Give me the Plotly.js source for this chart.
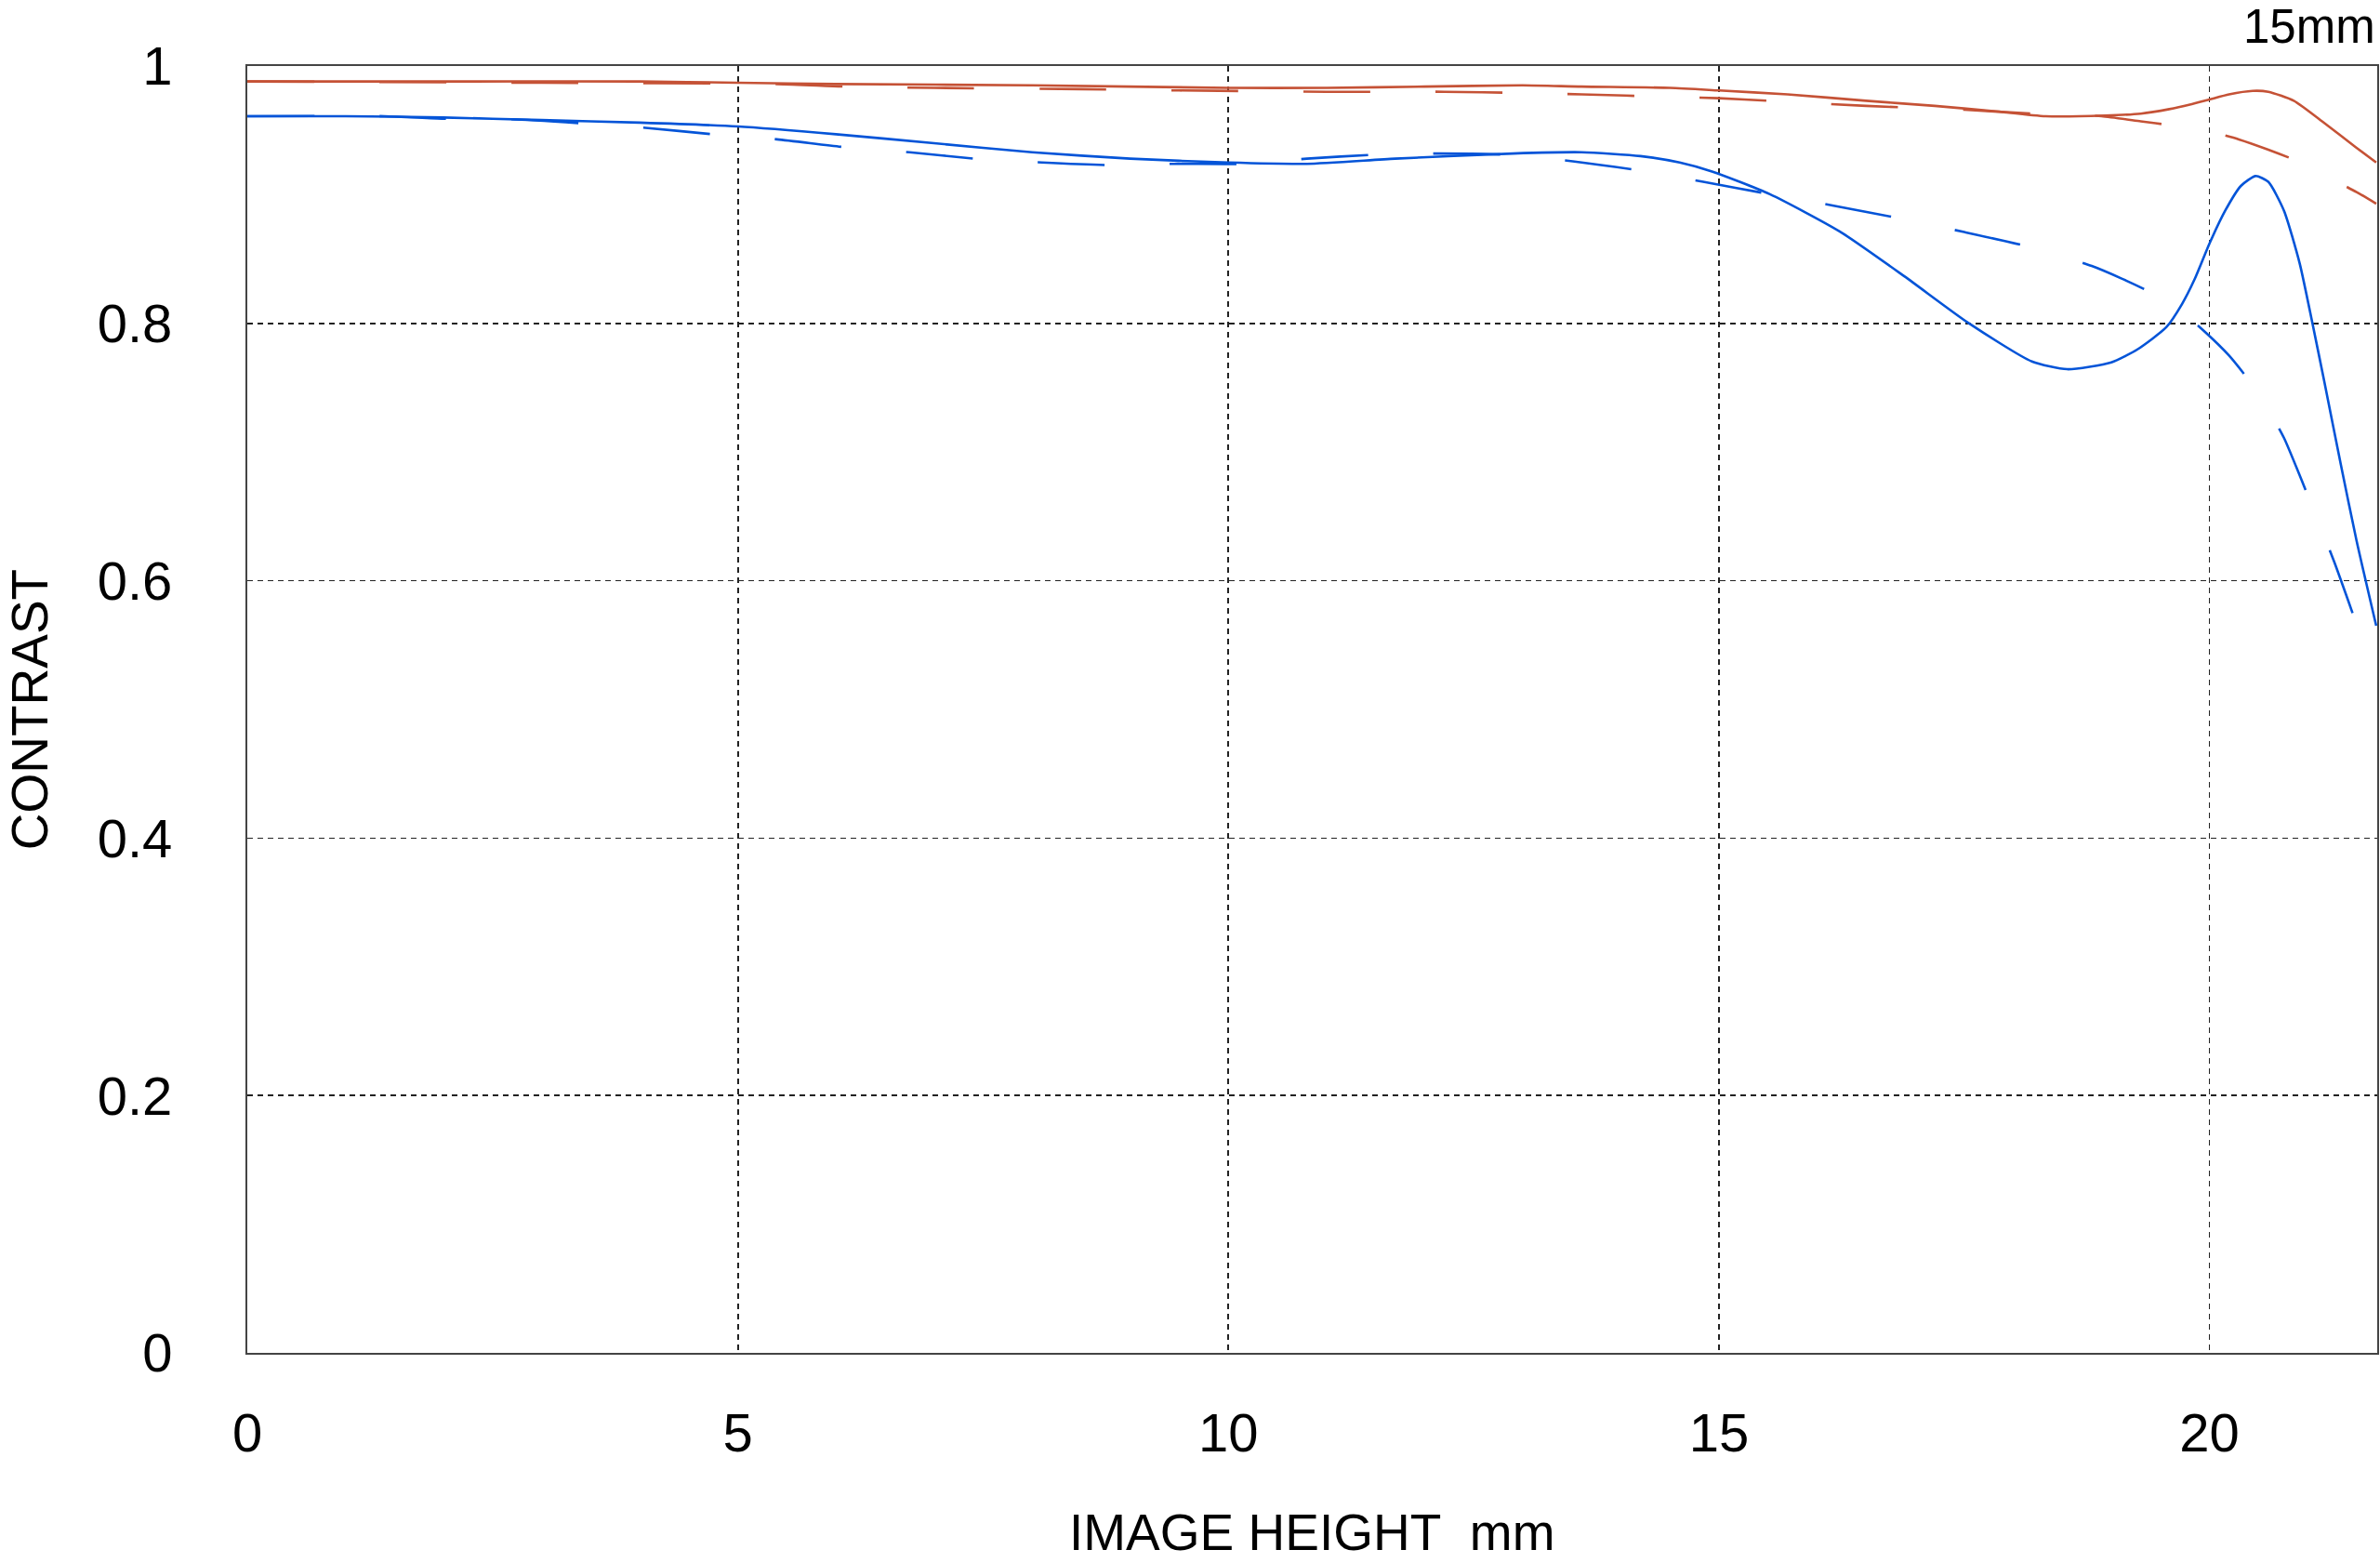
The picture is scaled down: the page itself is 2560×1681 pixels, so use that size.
<!DOCTYPE html>
<html>
<head>
<meta charset="utf-8">
<script src="https://cdn.plot.ly/plotly-3.0.1.min.js"></script>
<style>
  html, body { margin: 0; padding: 0; background: #ffffff; }
  #chart { width: 2560px; height: 1681px; }
</style>
</head>
<body>
<div id="chart"></div>
<script>
// ---- Data (15mm) ----
const xTickVals = [0, 5, 10, 15, 20];
const xTickText = ["0", "5", "10", "15", "20"];
const yTickVals = [0, 0.2, 0.4, 0.6, 0.8, 1];
const yTickText = ["0", "0.2", "0.4", "0.6", "0.8", "1"];
const xTitle = "IMAGE HEIGHT\u00a0\u00a0mm";
const yTitle = "CONTRAST";
const chartLabel = "15mm";

// Red solid
const redSolidX = [0, 2, 4, 5, 6, 8, 10, 11, 12, 13, 13.6, 14.5, 15, 15.7, 16.5, 17.2, 17.8, 18.33, 18.93, 19.3, 19.59, 19.8, 20.0, 20.2, 20.44, 20.6, 20.86, 21.17, 21.49, 21.7];
const redSolidY = [0.988, 0.988, 0.988, 0.987, 0.986, 0.985, 0.983, 0.983, 0.984, 0.985, 0.984, 0.983, 0.981, 0.978, 0.973, 0.969, 0.965, 0.961, 0.9615, 0.963, 0.9665, 0.970, 0.974, 0.978, 0.9807, 0.980, 0.973, 0.9557, 0.937, 0.925];

// Red dashed
const redDashX = [0, 3, 5.4, 6.1, 7, 8.5, 9.5, 11, 12.2, 13, 13.6, 14.5, 15, 15.5, 16.5, 17.5, 18.2, 18.9, 19.3, 19.6, 20.0, 20.3, 20.6, 20.9, 21.2, 21.5, 21.7];
const redDashY = [0.988, 0.987, 0.986, 0.984, 0.983, 0.982, 0.981, 0.980, 0.980, 0.979, 0.978, 0.976, 0.975, 0.973, 0.969, 0.966, 0.963, 0.961, 0.957, 0.954, 0.949, 0.943, 0.935, 0.926, 0.914, 0.902, 0.893];

// Blue solid
const blueSolidX = [0, 1, 2, 3, 4, 5, 6, 7, 8, 9, 10, 10.8, 11.7, 12.9, 13.6, 14.2, 14.6, 14.93, 15.52, 16.23, 16.89, 17.54, 18.19, 18.55, 19.0, 19.27, 19.56, 19.72, 19.85, 20.0, 20.16, 20.32, 20.47, 20.6, 20.76, 20.92, 21.05, 21.17, 21.34, 21.5, 21.7];
const blueSolidY = [0.961, 0.961, 0.960, 0.958, 0.956, 0.953, 0.947, 0.940, 0.933, 0.928, 0.925, 0.924, 0.928, 0.932, 0.933, 0.930, 0.925, 0.918, 0.9004, 0.8715, 0.8366, 0.8005, 0.7704, 0.7644, 0.7697, 0.780, 0.797, 0.815, 0.8345, 0.862, 0.8875, 0.9068, 0.9145, 0.910, 0.8875, 0.8466, 0.800, 0.755, 0.690, 0.631, 0.565];

// Blue dashed
const blueDashX = [0, 1.4, 2.0, 2.7, 3.4, 4.06, 4.74, 5.4, 6.08, 6.75, 7.42, 8.1, 8.78, 9.45, 10.15, 10.8, 11.48, 12.16, 12.85, 13.51, 14.18, 14.84, 15.52, 16.17, 16.84, 17.5, 18.16, 18.8, 19.1, 19.42, 19.7, 19.96, 20.2, 20.41, 20.6, 20.76, 21.02, 21.27, 21.5];
const blueDashY = [0.961, 0.961, 0.959, 0.9586, 0.9555, 0.952, 0.947, 0.943, 0.937, 0.933, 0.928, 0.925, 0.923, 0.924, 0.924, 0.928, 0.931, 0.932, 0.931, 0.926, 0.919, 0.910, 0.9004, 0.8915, 0.8816, 0.871, 0.8595, 0.8446, 0.835, 0.8234, 0.810, 0.793, 0.775, 0.755, 0.733, 0.711, 0.663, 0.615, 0.566];

const RED = "#C55236";
const BLUE = "#0454D8";
const DASH = "72px,70px";

function trace(x, y, color, dash, name) {
  return {
    type: "scatter", mode: "lines", x: x, y: y, name: name,
    line: { color: color, width: 2.6, dash: dash, shape: "spline", smoothing: 0.6 },
    hoverinfo: "skip", showlegend: false
  };
}

const data = [
  trace(redSolidX, redSolidY, RED, "solid", "Red solid"),
  trace(redDashX, redDashY, RED, DASH, "Red dashed"),
  trace(blueSolidX, blueSolidY, BLUE, "solid", "Blue solid"),
  trace(blueDashX, blueDashY, BLUE, DASH, "Blue dashed")
];

const tickFont = { family: "Liberation Sans, Arial, sans-serif", size: 58, color: "#000000" };
const titleFont = { family: "Liberation Sans, Arial, sans-serif", size: 55, color: "#000000" };

const layout = {
  width: 2560, height: 1681,
  margin: { l: 266, r: 3, t: 71, b: 226, pad: 0 },
  paper_bgcolor: "#ffffff", plot_bgcolor: "#ffffff",
  xaxis: {
    range: [0, 21.71], tickmode: "array", tickvals: xTickVals, ticktext: xTickText,
    ticks: "", showgrid: true, gridcolor: "#222222", gridwidth: 1.8, griddash: "6px,5px",
    zeroline: false, showline: true, mirror: true, linecolor: "#444444", linewidth: 2,
    tickfont: tickFont, ticklabelstandoff: 34, automargin: false
  },
  yaxis: {
    range: [0, 1], tickmode: "array", tickvals: yTickVals, ticktext: yTickText,
    ticks: "", showgrid: true, gridcolor: "#222222", gridwidth: 1.8, griddash: "6px,5px",
    zeroline: false, showline: true, mirror: true, linecolor: "#444444", linewidth: 2,
    tickfont: tickFont, ticklabelstandoff: 67, automargin: false
  },
  annotations: [
    {
      text: chartLabel, xref: "paper", yref: "paper", x: 1, y: 1.0308,
      xanchor: "right", yanchor: "middle", showarrow: false,
      font: { family: "Liberation Sans, Arial, sans-serif", size: 51, color: "#000000" }
    },
    {
      text: xTitle, xref: "paper", yref: "paper", x: 0.5, y: -0.1395,
      xanchor: "center", yanchor: "middle", showarrow: false, font: titleFont
    },
    {
      text: yTitle, xref: "paper", yref: "paper", x: -0.1020, y: 0.5, textangle: -90,
      xanchor: "center", yanchor: "middle", showarrow: false, font: titleFont
    }
  ]
};

Plotly.newPlot("chart", data, layout, { staticPlot: true, displayModeBar: false });
</script>
</body>
</html>
